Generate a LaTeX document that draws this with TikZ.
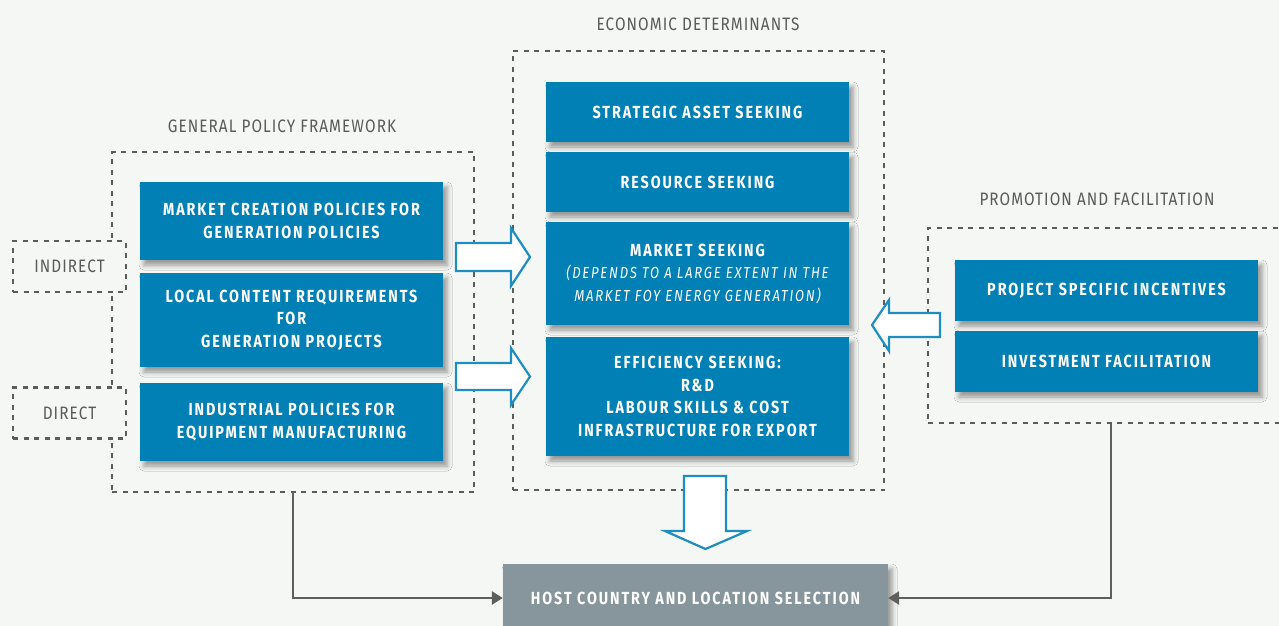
\documentclass[tikz,border=0pt]{standalone}
\usepackage{fontspec}
\setmainfont{Fira Sans}[FakeStretch=0.85, LetterSpace=6]
\newfontfamily\boxfont{Fira Sans}[FakeStretch=0.82, LetterSpace=11]
\usetikzlibrary{arrows.meta,shadows.blur}
\definecolor{bg}{HTML}{F5F7F4}
\definecolor{boxblue}{HTML}{0080B5}
\definecolor{hostgrey}{HTML}{86969C}
\definecolor{dashgrey}{HTML}{5C5C5C}
\definecolor{titlegrey}{HTML}{5A5A5A}
\definecolor{arrowblue}{HTML}{1E8EC2}
\definecolor{conngrey}{HTML}{5E5E5E}
\newcommand{\subnote}{\mdseries\itshape\fontsize{16}{22.5}\selectfont}
\tikzset{
  dashbox/.style={draw=dashgrey, line width=2.8pt, dash pattern=on 5pt off 5.5pt, inner sep=0pt},
  tagbox/.style={dashbox, fill=bg, minimum width=113pt, minimum height=51pt, text=titlegrey,
    font=\fontsize{18}{20}\selectfont},
  titletext/.style={text=titlegrey, inner sep=0pt, font=\fontsize{18}{20}\selectfont},
  boxshadow/.style={blur shadow={shadow xshift=4pt, shadow yshift=-5pt, shadow blur radius=5pt, shadow opacity=40}},
  bluebox/.style={fill=boxblue, text=white, inner sep=0pt, minimum width=303pt, align=center,
    font=\boxfont\bfseries\fontsize{17.5}{22.5}\selectfont, boxshadow},
  hostbox/.style={fill=hostgrey, text=white, inner sep=0pt, minimum width=385pt, minimum height=68pt,
    font=\boxfont\bfseries\fontsize{17.5}{20}\selectfont, boxshadow},
  blockarrow/.style={draw=arrowblue, fill=white, line width=2.2pt, line join=miter},
  conn/.style={draw=conngrey, line width=2.6pt, -{Triangle[length=11pt,width=13pt]}}
}
\begin{document}
\begin{tikzpicture}[x=1pt,y=-1pt]
\useasboundingbox[fill=bg] (0,0) rectangle (1279,626);

% group frames
\node[dashbox, minimum width=362pt, minimum height=340pt] (gpf) at (293,322) {};
\node[dashbox, minimum width=371pt, minimum height=439pt] (ed) at (698.5,270.5) {};
\node[dashbox, minimum width=366pt, minimum height=195pt] (pf) at (1111,325.5) {};

% titles
\node[titletext] (gpft) at (282,126) {GENERAL POLICY FRAMEWORK};
\node[titletext] (edt) at (698,24) {ECONOMIC DETERMINANTS};
\node[titletext] (pft) at (1097,199) {PROMOTION AND FACILITATION};

% tags
\node[tagbox] (ind) at (69.5,266.5) {INDIRECT};
\node[tagbox] (dir) at (69.5,413) {DIRECT};

% left column
\node[bluebox, minimum height=78pt] (mc) at (291.5,221) {MARKET CREATION POLICIES FOR\\GENERATION POLICIES};
\node[bluebox, minimum height=94pt] (lc) at (291.5,320) {LOCAL CONTENT REQUIREMENTS\\FOR\\GENERATION PROJECTS};
\node[bluebox, minimum height=78pt] (ip) at (291.5,422) {INDUSTRIAL POLICIES FOR\\EQUIPMENT MANUFACTURING};

% middle column
\node[bluebox, minimum height=60pt] (sa) at (697.5,112) {STRATEGIC ASSET SEEKING};
\node[bluebox, minimum height=60pt] (rs) at (697.5,182) {RESOURCE SEEKING};
\node[bluebox, minimum height=103pt] (ms) at (697.5,273.5) {MARKET SEEKING\\
  \subnote (DEPENDS TO A LARGE EXTENT IN THE\\\subnote MARKET FOY ENERGY GENERATION)};
\node[bluebox, minimum height=119pt] (es) at (697.5,396.5) {EFFICIENCY SEEKING:\\R\&D\\LABOUR SKILLS \& COST\\INFRASTRUCTURE FOR EXPORT};

% right column
\node[bluebox, minimum height=61pt] (ps) at (1106.5,290.5) {PROJECT SPECIFIC INCENTIVES};
\node[bluebox, minimum height=61pt] (inv) at (1106.5,361.5) {INVESTMENT FACILITATION};

% host
\node[hostbox] (host) at (695.5,598) {HOST COUNTRY AND LOCATION SELECTION};

% block arrows
\draw[blockarrow] (456,243) -- (511,243) -- (511,228) -- (530,257) -- (511,286) -- (511,271) -- (456,271) -- cycle;
\draw[blockarrow] (456,363) -- (511,363) -- (511,348) -- (530,376.5) -- (511,405) -- (511,390) -- (456,390) -- cycle;
\draw[blockarrow] (940,313) -- (889,313) -- (889,300) -- (872,325) -- (889,351) -- (889,337) -- (940,337) -- cycle;
\draw[blockarrow] (684,476) -- (726,476) -- (726,531) -- (747,531) -- (705.5,549) -- (665,531) -- (684,531) -- cycle;

% connectors
\draw[conn] (gpf.south) |- (host.west);
\draw[conn] (pf.south) |- (host.east);
\end{tikzpicture}
\end{document}
